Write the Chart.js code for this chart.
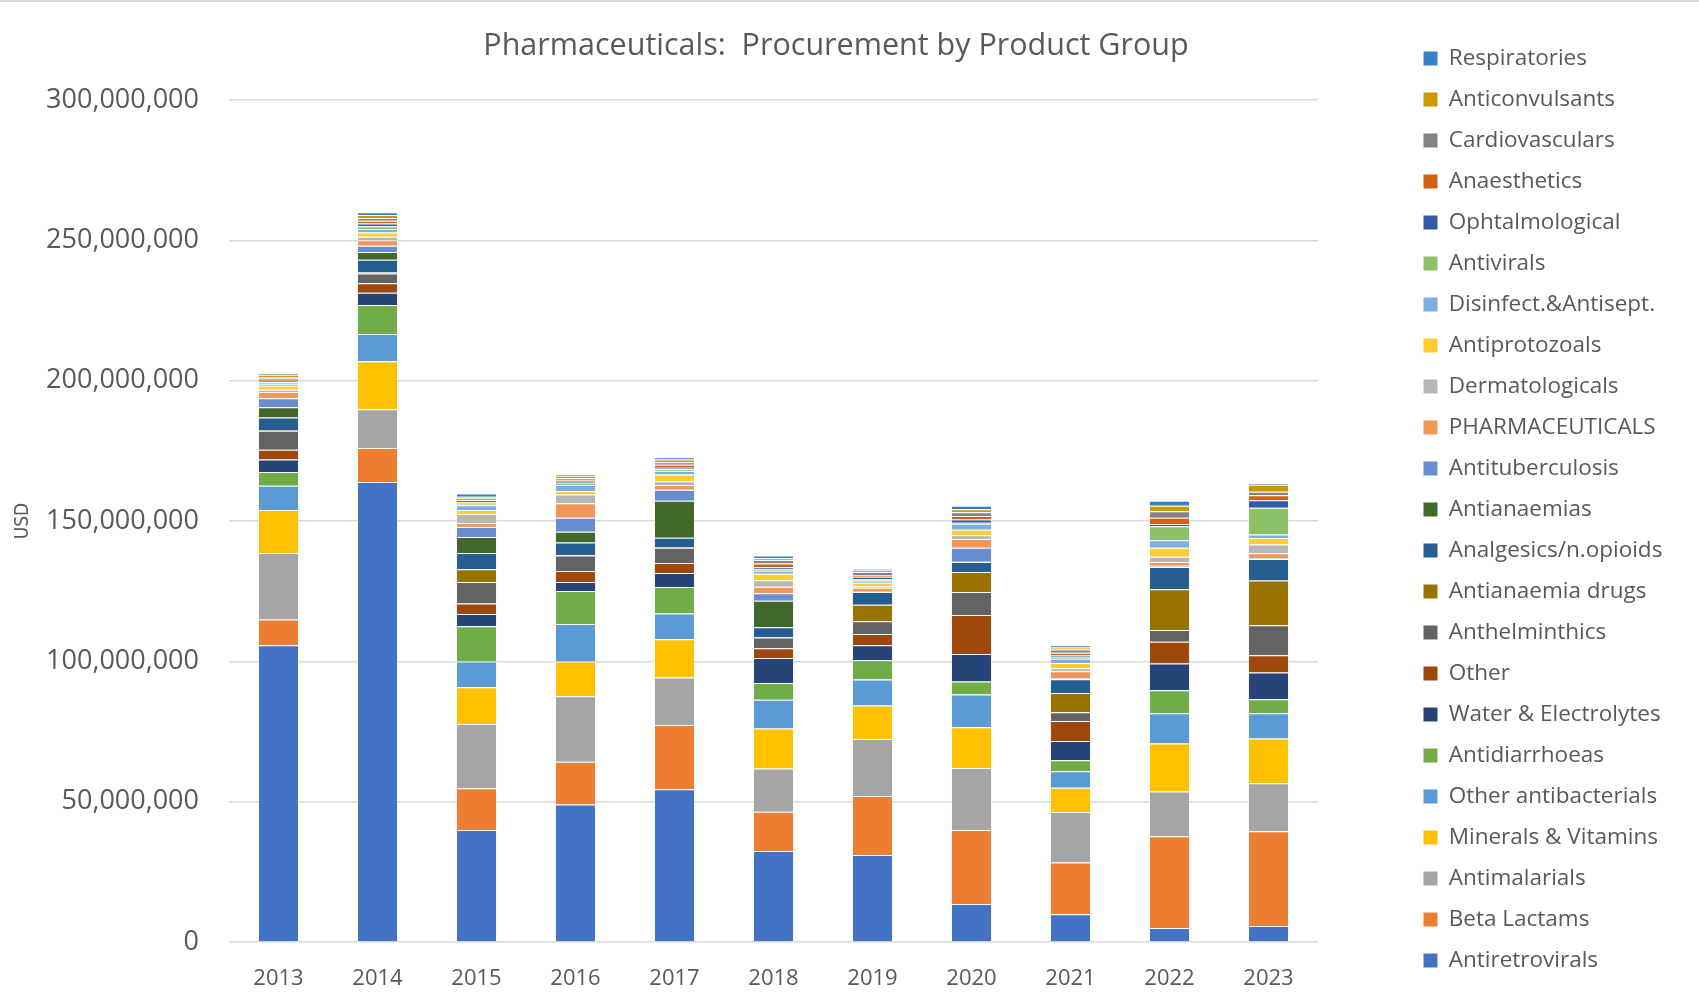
<!DOCTYPE html>
<html>
<head>
<meta charset="utf-8">
<script src="https://cdn.jsdelivr.net/npm/chart.js@4.4.1/dist/chart.umd.min.js"></script>
<style>
  body { margin: 0; background: #fff; }
  canvas { display: block; }
</style>
</head>
<body>
<canvas id="procurementChart" width="1699" height="1001"></canvas>
<script>
// Years on the x axis
const years = ['2013', '2014', '2015', '2016', '2017', '2018', '2019', '2020', '2021', '2022', '2023'];

// Values in millions of USD (bottom of stack first)
const antiretrovirals = [105.7, 163.9, 39.9, 49.0, 54.4, 32.4, 31.0, 13.5, 9.9, 5.0, 5.7];
const betaLactams = [9.2, 12.1, 14.9, 15.2, 22.9, 14.0, 21.0, 26.4, 18.4, 32.7, 33.8];
const antimalarials = [23.7, 13.8, 22.9, 23.4, 16.9, 15.4, 20.3, 22.1, 18.0, 15.9, 17.1];
const mineralsVitamins = [15.3, 17.1, 13.1, 12.3, 13.7, 14.3, 12.0, 14.5, 8.7, 17.1, 15.9];
const otherAntibacterials = [8.7, 9.7, 9.1, 13.4, 9.1, 10.2, 9.2, 11.7, 5.8, 10.8, 9.0];
const antidiarrhoeas = [4.9, 10.4, 12.6, 11.8, 9.5, 6.0, 6.9, 4.6, 4.0, 8.2, 5.0];
const waterElectrolytes = [4.4, 4.3, 4.4, 3.2, 5.0, 8.9, 5.3, 9.8, 6.8, 9.5, 9.5];
const other = [3.5, 3.4, 3.7, 3.9, 3.5, 3.5, 4.0, 13.9, 7.1, 7.8, 6.2];
const anthelminthics = [6.8, 3.5, 7.7, 5.5, 5.5, 3.8, 4.6, 8.2, 3.2, 4.2, 10.7];
const antianaemiaDrugs = [0.2, 0.3, 4.5, 0.1, 0.1, 0.1, 5.9, 7.1, 6.8, 14.5, 15.9];
const analgesics = [4.5, 4.6, 5.8, 4.5, 3.4, 3.5, 4.5, 3.6, 4.9, 7.9, 7.7];
const antianaemias = [3.6, 2.7, 5.7, 3.9, 13.2, 9.5, 0.1, 0.1, 0.1, 0.2, 0.1];
const antituberculosis = [3.2, 2.3, 3.6, 5.0, 3.9, 2.7, 0.3, 5.0, 0.2, 0.3, 0.2];
const pharmaceuticals = [2.3, 1.9, 1.4, 5.1, 1.7, 2.3, 1.1, 3.1, 2.6, 1.3, 1.7];
const dermatologicals = [0.8, 1.3, 3.2, 3.1, 1.4, 2.3, 0.6, 1.3, 1.0, 1.9, 3.1];
const antiprotozoals = [1.4, 1.5, 1.4, 1.3, 2.4, 2.3, 1.2, 2.0, 1.9, 3.2, 2.3];
const disinfectants = [0.7, 1.2, 1.7, 2.1, 1.2, 1.1, 0.8, 2.1, 1.5, 2.6, 1.3];
const antivirals = [0.5, 1.0, 0.6, 0.6, 0.6, 0.6, 0.5, 0.4, 0.5, 5.0, 9.5];
const ophtalmological = [0.6, 1.0, 0.4, 0.6, 0.6, 0.6, 0.8, 1.1, 0.7, 0.8, 2.7];
const anaesthetics = [0.8, 1.0, 0.9, 0.6, 1.0, 1.4, 0.7, 1.3, 1.0, 2.3, 1.8];
const cardiovasculars = [0.5, 1.0, 0.5, 0.6, 0.9, 1.2, 1.0, 1.3, 1.1, 2.3, 1.2];
const anticonvulsants = [0.8, 1.0, 0.6, 0.9, 1.0, 0.6, 0.6, 1.1, 0.7, 1.9, 2.5];
const respiratories = [0.6, 1.0, 1.2, 0.6, 0.8, 1.0, 0.5, 1.2, 0.8, 1.8, 0.5];

// Tick values for the y axis
const yTicks = [0, 50000000, 100000000, 150000000, 200000000, 250000000, 300000000];

// Series in stacking order with their Excel-style colours
const series = [
    ['Antiretrovirals', antiretrovirals, '#4472C4'],
    ['Beta Lactams', betaLactams, '#ED7D31'],
    ['Antimalarials', antimalarials, '#A5A5A5'],
    ['Minerals & Vitamins', mineralsVitamins, '#FFC000'],
    ['Other antibacterials', otherAntibacterials, '#5B9BD5'],
    ['Antidiarrhoeas', antidiarrhoeas, '#70AD47'],
    ['Water & Electrolytes', waterElectrolytes, '#264478'],
    ['Other', other, '#9E480E'],
    ['Anthelminthics', anthelminthics, '#636363'],
    ['Antianaemia drugs', antianaemiaDrugs, '#997300'],
    ['Analgesics/n.opioids', analgesics, '#255E91'],
    ['Antianaemias', antianaemias, '#43682B'],
    ['Antituberculosis', antituberculosis, '#698ED0'],
    ['PHARMACEUTICALS', pharmaceuticals, '#F1975A'],
    ['Dermatologicals', dermatologicals, '#B7B7B7'],
    ['Antiprotozoals', antiprotozoals, '#FFCD33'],
    ['Disinfect.&Antisept.', disinfectants, '#7CAFDD'],
    ['Antivirals', antivirals, '#8CC168'],
    ['Ophtalmological', ophtalmological, '#335AA6'],
    ['Anaesthetics', anaesthetics, '#D26012'],
    ['Cardiovasculars', cardiovasculars, '#848484'],
    ['Anticonvulsants', anticonvulsants, '#CC9A00'],
    ['Respiratories', respiratories, '#3A7FC6']
];

const textColor = '#595959';
const fontFamily = "'Open Sans', 'Liberation Sans', sans-serif";

const datasets = series.map(([label, values, color]) => ({
    label: label,
    data: values.map(v => v * 1000000),
    backgroundColor: color,
    borderColor: 'rgba(255, 255, 255, 0.45)',
    borderWidth: 1,
    barPercentage: 0.415,
    categoryPercentage: 1.0
}));

// Fix the legend width so it sits where the reference legend is
const legendWidth = {
    id: 'legendWidth',
    beforeInit(chart) {
        const origFit = chart.legend.fit;
        chart.legend.fit = function () {
            origFit.call(this);
            this.width = 294;
        };
    }
};

// Title and the thin frame line at the top
const chartTitle = {
    id: 'chartTitle',
    afterDraw(chart) {
        const ctx = chart.ctx;
        ctx.save();
        ctx.strokeStyle = '#D9D9D9';
        ctx.lineWidth = 2;
        ctx.beginPath();
        ctx.moveTo(0, 1);
        ctx.lineTo(1699, 1);
        ctx.stroke();
        ctx.fillStyle = textColor;
        ctx.font = `30.5px ${fontFamily}`;
        ctx.textAlign = 'center';
        ctx.textBaseline = 'middle';
        ctx.fillText('Pharmaceuticals:  Procurement by Product Group', 836, 46);
        ctx.restore();
    }
};

const ctx = document.getElementById('procurementChart').getContext('2d');
const procurementChart = new Chart(ctx, {
    type: 'bar',
    data: {
        labels: years,
        datasets: datasets
    },
    options: {
        responsive: false,
        animation: false,
        layout: {
            padding: { top: 18, right: 0, bottom: 0, left: 0 }
        },
        scales: {
            x: {
                stacked: true,
                grid: { display: false },
                border: { display: false },
                ticks: {
                    color: textColor,
                    font: { family: fontFamily, size: 22 },
                    padding: 16
                },
                afterFit(scale) { scale.height = 59; }
            },
            xTop: {
                type: 'category',
                position: 'top',
                grid: { display: false },
                border: { display: false },
                ticks: { display: false },
                afterFit(scale) { scale.height = 82; }
            },
            y: {
                stacked: true,
                min: 0,
                max: 300000000,
                afterBuildTicks(scale) {
                    scale.ticks = yTicks.map(v => ({ value: v }));
                },
                grid: {
                    color: '#D9D9D9',
                    lineWidth: 1.5,
                    drawTicks: false
                },
                border: { display: false },
                ticks: {
                    color: textColor,
                    font: { family: fontFamily, size: 27 },
                    padding: 30,
                    callback: value => value.toLocaleString('en-US')
                },
                title: {
                    display: true,
                    text: 'USD',
                    color: textColor,
                    font: { family: "'Liberation Sans Narrow', 'DejaVu Sans Condensed', sans-serif", size: 19 },
                    padding: { top: 12 }
                },
                afterFit(scale) { scale.width = 229; }
            },
            yGap: {
                type: 'linear',
                position: 'right',
                grid: { display: false },
                border: { display: false },
                ticks: { display: false },
                afterFit(scale) { scale.width = 87; }
            }
        },
        plugins: {
            title: { display: false },
            tooltip: { enabled: false },
            legend: {
                position: 'right',
                reverse: true,
                labels: {
                    color: textColor,
                    font: { family: fontFamily, size: 22.5 },
                    boxWidth: 14,
                    boxHeight: 14,
                    padding: 18.5,
                    generateLabels(chart) {
                        return Chart.defaults.plugins.legend.labels.generateLabels(chart)
                            .map(item => ({ ...item, lineWidth: 0 }));
                    }
                }
            }
        }
    },
    plugins: [legendWidth, chartTitle]
});
</script>
</body>
</html>
